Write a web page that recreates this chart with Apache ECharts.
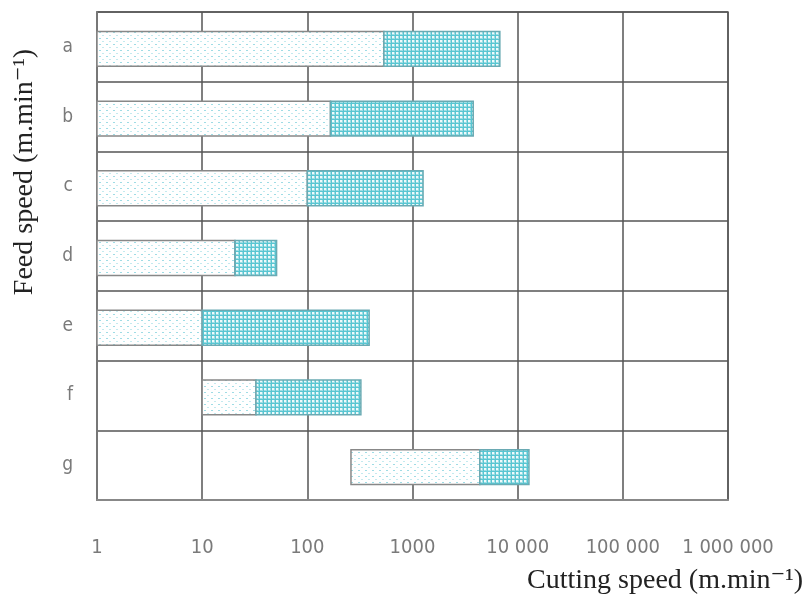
<!DOCTYPE html>
<html>
<head>
<meta charset="utf-8">
<script src="https://cdn.jsdelivr.net/npm/echarts@6/dist/echarts.min.js"></script>
<style>
  html, body { margin: 0; padding: 0; background: #fff; }
  #chart { width: 807px; height: 605px; }
</style>
</head>
<body>
<div id="chart"></div>
<script>
// Machining ranges per process: feed-speed band (dotted) then cutting-speed band (hatched)
const categories = ['a', 'b', 'c', 'd', 'e', 'f', 'g'];
const rangeStart = [1, 1, 1, 1, 1, 10, 260];
const rangeMid   = [535, 166, 100, 20.5, 10, 32.5, 4370];
const rangeEnd   = [6770, 3780, 1260, 51, 387, 323, 12800];
const xTickLabels = ['1', '10', '100', '1000', '10 000', '100 000', '1 000 000'];

// fill patterns
function dotPattern() {
  const c = document.createElement('canvas');
  c.width = 7; c.height = 6;
  const g = c.getContext('2d');
  g.fillStyle = '#ffffff';
  g.fillRect(0, 0, 7, 6);
  g.fillStyle = '#9fdce5';
  g.fillRect(1, 2, 2, 1);
  g.fillStyle = '#c4eaef';
  g.fillRect(4, 5, 2, 1);
  return c;
}
function gridPattern() {
  const c = document.createElement('canvas');
  c.width = 4; c.height = 4;
  const g = c.getContext('2d');
  g.fillStyle = '#eefafb';
  g.fillRect(0, 0, 4, 4);
  g.fillStyle = '#9fdde4';
  g.fillRect(2, 0, 1, 4);
  g.fillRect(0, 2, 4, 1);
  g.fillStyle = '#58c6d2';
  g.fillRect(3, 0, 1, 4);
  g.fillRect(0, 3, 4, 1);
  return c;
}
const dotFill = { image: dotPattern(), repeat: 'repeat' };
const gridFill = { image: gridPattern(), repeat: 'repeat' };

const rows = categories.map((c, i) => [i, rangeStart[i], rangeMid[i], rangeEnd[i]]);

const chart = echarts.init(document.getElementById('chart'), null, { renderer: 'canvas' });

const labelFont = "'DejaVu Sans Condensed', 'Liberation Sans Narrow', 'DejaVu Sans', sans-serif";
const titleFont = "'Liberation Serif', 'DejaVu Serif', serif";

chart.setOption({
  animation: false,
  backgroundColor: '#ffffff',
  grid: {
    left: 97, right: 79, top: 12, bottom: 105,
    show: true, borderColor: '#666', borderWidth: 1.5
  },
  xAxis: {
    type: 'log',
    logBase: 10,
    min: 1,
    max: 1000000,
    axisLine: { show: true, lineStyle: { color: '#888', width: 2 } },
    axisTick: { show: false },
    minorTick: { show: false },
    splitLine: { show: true, lineStyle: { color: '#555', width: 1.5 } },
    axisLabel: {
      margin: 38,
      color: '#7a7a7a',
      fontSize: 20,
      fontFamily: labelFont,
      formatter: v => xTickLabels[Math.round(Math.log10(v))]
    }
  },
  yAxis: {
    type: 'category',
    data: categories,
    inverse: true,
    axisLine: { show: true, lineStyle: { color: '#777', width: 2 } },
    axisTick: { show: false },
    splitLine: { show: true, interval: 0, lineStyle: { color: '#555', width: 1.5 } },
    axisLabel: {
      margin: 24,
      color: '#7a7a7a',
      fontSize: 19,
      fontFamily: labelFont
    }
  },
  graphic: [
    {
      type: 'text',
      right: 4,
      top: 567,
      style: {
        text: 'Cutting speed (m.min⁻¹)',
        font: "28px " + titleFont,
        fill: '#222'
      }
    },
    {
      type: 'text',
      x: 25,
      y: 172,
      rotation: Math.PI / 2,
      style: {
        text: 'Feed speed (m.min⁻¹)',
        font: "28px " + titleFont,
        fill: '#222',
        align: 'center',
        verticalAlign: 'middle'
      }
    }
  ],
  series: [{
    type: 'custom',
    data: rows,
    encode: { x: [1, 2, 3], y: 0 },
    renderItem: function (params, api) {
      const cat = api.value(0);
      const pS = api.coord([api.value(1), cat]);
      const pM = api.coord([api.value(2), cat]);
      const pE = api.coord([api.value(3), cat]);
      const band = Math.abs(api.coord([1, 1])[1] - api.coord([1, 0])[1]);
      const h = band * 0.5;
      const y = pS[1] - h / 2 + 2;
      return {
        type: 'group',
        children: [
          {
            type: 'rect',
            shape: { x: pS[0], y: y, width: pM[0] - pS[0], height: h },
            style: { fill: dotFill, stroke: '#888', lineWidth: 1.5 }
          },
          {
            type: 'rect',
            shape: { x: pM[0], y: y, width: pE[0] - pM[0], height: h },
            style: { fill: gridFill, stroke: '#6aaab3', lineWidth: 1.5 }
          }
        ]
      };
    }
  }]
});
</script>
</body>
</html>
